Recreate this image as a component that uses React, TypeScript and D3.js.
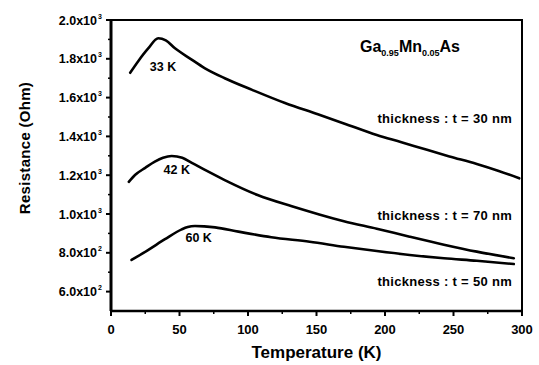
import * as d3 from "d3"

// temperature (K) and resistance (Ohm)
const t30 = [14, 20, 27, 34.5, 40, 46.7, 58, 68.6, 83, 103, 127, 151, 170, 194, 212, 230, 247, 267, 283, 298]
const r30 = [1728, 1789, 1852, 1906, 1895, 1854, 1800, 1751, 1700, 1640, 1572, 1514, 1467, 1407, 1370, 1332, 1297, 1258, 1222, 1184]

const t70 = [13, 17.5, 25, 32, 38, 44.3, 52, 59, 70, 83, 107, 132, 152, 170, 194, 218, 243, 267, 294]
const r70 = [1166, 1201, 1238, 1270, 1290, 1299, 1290, 1264, 1222, 1175, 1098, 1040, 998, 963, 924, 883, 842, 806, 772]

const t50 = [15, 27, 39.4, 51.6, 56, 61.3, 68, 76, 93, 117, 145, 170, 194, 218, 243, 267, 294]
const r50 = [763, 814, 870, 921, 933, 938, 936, 931, 909, 880, 857, 831, 809, 789, 772, 759, 742]

const peakLabels = ["33 K", "42 K", "60 K"]
const peakPos = [[38, 1735], [48, 1205], [64, 858]]
const thickLabels = ["thickness : t = 30 nm", "thickness : t = 70 nm", "thickness : t = 50 nm"]
const thickY = [1470, 970, 630]

const xTicks = [0, 50, 100, 150, 200, 250, 300]
const yTicks = [600, 800, 1000, 1200, 1400, 1600, 1800, 2000]
const yTickMant = ["6.0", "8.0", "1.0", "1.2", "1.4", "1.6", "1.8", "2.0"]
const yTickExp = ["2", "2", "3", "3", "3", "3", "3", "3"]

const font = "'Liberation Sans', Arial, sans-serif"

export default function App() {
  const left = 111, right = 522, top = 20, bottom = 311
  const x = d3.scaleLinear().domain([0, 300]).range([left, right])
  const y = d3.scaleLinear().domain([500, 2000]).range([bottom, top])

  const line = d3
    .line<[number, number]>()
    .x((d) => x(d[0]))
    .y((d) => y(d[1]))
    .curve(d3.curveMonotoneX)

  const series = [
    t30.map((t, i) => [t, r30[i]] as [number, number]),
    t70.map((t, i) => [t, r70[i]] as [number, number]),
    t50.map((t, i) => [t, r50[i]] as [number, number]),
  ]

  const xMinor = d3.range(25, 300, 50)
  const yMinor = d3.range(700, 2000, 200)

  return (
    <svg width={539} height={365} style={{ position: "absolute", left: 0, top: 0, background: "#fff" }} fontFamily={font}>
      {/* frame */}
      <rect x={left} y={top} width={right - left} height={bottom - top} fill="none" stroke="#000" strokeWidth={2} />
      <line x1={left} x2={left} y1={top} y2={bottom} stroke="#000" strokeWidth={3} />
      <line x1={left} x2={right} y1={bottom} y2={bottom} stroke="#000" strokeWidth={2.5} />

      {/* x ticks */}
      {xTicks.map((t) => (
        <g key={"x" + t}>
          <line x1={x(t)} x2={x(t)} y1={bottom} y2={bottom + 5} stroke="#000" strokeWidth={2} />
          <text x={x(t)} y={334} textAnchor="middle" fontSize={13} fontWeight="bold">{t}</text>
        </g>
      ))}
      {xMinor.map((t) => (
        <line key={"xm" + t} x1={x(t)} x2={x(t)} y1={bottom} y2={bottom + 3} stroke="#000" strokeWidth={1.5} />
      ))}

      {/* y ticks */}
      {yTicks.map((v, i) => (
        <g key={"y" + v}>
          <line x1={left - 5} x2={left} y1={y(v)} y2={y(v)} stroke="#000" strokeWidth={2} />
          <text x={97} y={y(v) + 4.5} textAnchor="end" fontSize={12.5} fontWeight="bold">
            {yTickMant[i]}x10
          </text>
          <text x={98} y={y(v) - 1.5} fontSize={7} fontWeight="bold">{yTickExp[i]}</text>
        </g>
      ))}
      {yMinor.map((v) => (
        <line key={"ym" + v} x1={left - 3} x2={left} y1={y(v)} y2={y(v)} stroke="#000" strokeWidth={1.5} />
      ))}

      {/* curves */}
      {series.map((s, i) => (
        <path key={"s" + i} d={line(s) ?? ""} fill="none" stroke="#000" strokeWidth={2.6} strokeLinejoin="round" strokeLinecap="round" />
      ))}

      {/* peak labels */}
      {peakLabels.map((lab, i) => (
        <text key={lab} x={x(peakPos[i][0])} y={y(peakPos[i][1])} textAnchor="middle" fontSize={12.5} fontWeight="bold">{lab}</text>
      ))}

      {/* thickness labels */}
      {thickLabels.map((lab, i) => (
        <text key={lab} x={512} y={y(thickY[i])} textAnchor="end" fontSize={13} fontWeight="bold" letterSpacing={0.3}>{lab}</text>
      ))}

      {/* compound */}
      <text x={360} y={52} fontSize={16} fontWeight="bold">
        Ga<tspan dy={4} fontSize={9}>0.95</tspan>
        <tspan dy={-4}>Mn</tspan>
        <tspan dy={4} fontSize={9}>0.05</tspan>
        <tspan dy={-4}>As</tspan>
      </text>

      {/* axis titles */}
      <text x={(left + right) / 2} y={358} textAnchor="middle" fontSize={17} fontWeight="bold">Temperature (K)</text>
      <text transform={`translate(30,148) rotate(-90)`} textAnchor="middle" fontSize={15} fontWeight="bold" letterSpacing={0.3}>
        Resistance (Ohm)
      </text>
    </svg>
  )
}
